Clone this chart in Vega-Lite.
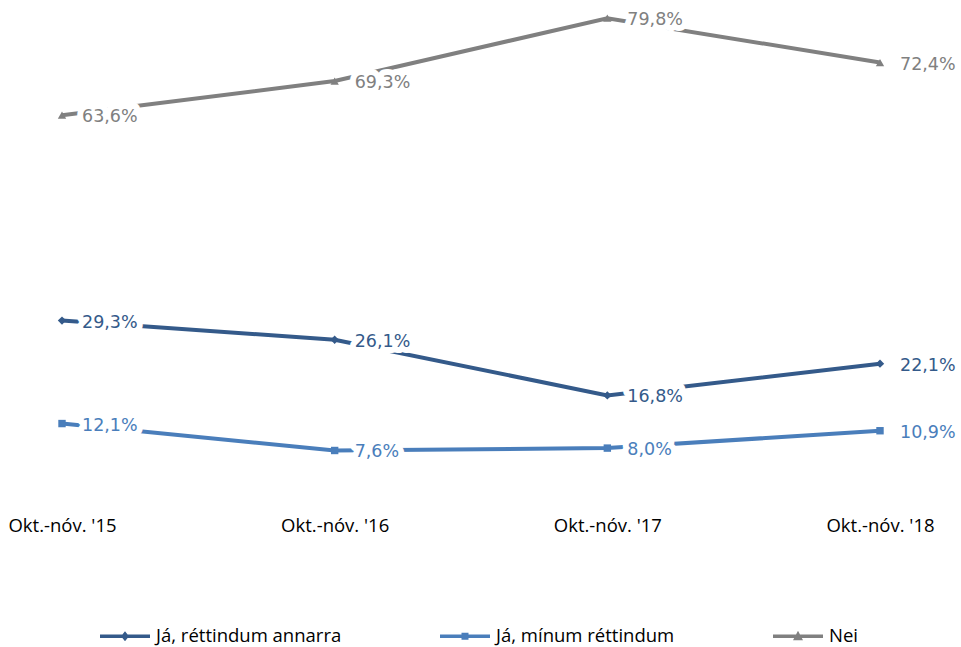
{
  "$schema": "https://vega.github.io/schema/vega-lite/v6.json",
  "autosize": "none",
  "width": 818,
  "height": 479,
  "padding": {"left": 62, "top": 17, "right": 81, "bottom": 151},
  "background": "white",
  "config": {"view": {"stroke": null}},
  "data": {"values": [
    {"period": "Okt.-nóv. '15", "series": "Já, réttindum annarra", "value": 29.3, "label": "29,3%"},
    {"period": "Okt.-nóv. '16", "series": "Já, réttindum annarra", "value": 26.1, "label": "26,1%"},
    {"period": "Okt.-nóv. '17", "series": "Já, réttindum annarra", "value": 16.8, "label": "16,8%"},
    {"period": "Okt.-nóv. '18", "series": "Já, réttindum annarra", "value": 22.1, "label": "22,1%"},
    {"period": "Okt.-nóv. '15", "series": "Já, mínum réttindum", "value": 12.1, "label": "12,1%"},
    {"period": "Okt.-nóv. '16", "series": "Já, mínum réttindum", "value": 7.6, "label": "7,6%"},
    {"period": "Okt.-nóv. '17", "series": "Já, mínum réttindum", "value": 8.0, "label": "8,0%"},
    {"period": "Okt.-nóv. '18", "series": "Já, mínum réttindum", "value": 10.9, "label": "10,9%"},
    {"period": "Okt.-nóv. '15", "series": "Nei", "value": 63.6, "label": "63,6%"},
    {"period": "Okt.-nóv. '16", "series": "Nei", "value": 69.3, "label": "69,3%"},
    {"period": "Okt.-nóv. '17", "series": "Nei", "value": 79.8, "label": "79,8%"},
    {"period": "Okt.-nóv. '18", "series": "Nei", "value": 72.4, "label": "72,4%"}
  ]},
  "encoding": {
    "x": {"field": "period", "type": "ordinal", "sort": null,
      "scale": {"type": "point", "padding": 0},
      "axis": {"title": null, "domain": false, "ticks": false, "labelAngle": 0, "labelFont": "Open Sans", "labelFontSize": 18.5, "labelColor": "#000000", "labelPadding": 20, "labelDx": 3, "labelBaseline": "top"}},
    "y": {"field": "value", "type": "quantitative", "scale": {"domain": [0, 80], "nice": false, "zero": true}, "axis": null}
  },
  "layer": [
    {
      "mark": {"type": "line", "strokeWidth": 4},
      "encoding": {
        "color": {"field": "series", "type": "nominal", "sort": ["Já, réttindum annarra", "Já, mínum réttindum", "Nei"],
          "scale": {"domain": ["Já, réttindum annarra", "Já, mínum réttindum", "Nei"], "range": ["#345a8a", "#4a7ebb", "#808080"]},
          "legend": {"title": null, "orient": "none", "legendX": 38, "legendY": 594, "direction": "horizontal", "columns": 3, "columnPadding": 98,
            "labelFont": "Open Sans", "labelFontSize": 18.5, "labelColor": "#000000", "labelOffset": 6, "labelLimit": 400, "symbolSize": 2500,
            "encode": {"symbols": {"update": {
              "shape": {"signal": "datum.value === 'Nei' ? 'M-1,-0.07H1V0.07H-1Z M0,-0.22L0.2,0.16H-0.2Z' : datum.value === 'Já, mínum réttindum' ? 'M-1,-0.07H1V0.07H-1Z M-0.14,-0.14H0.14V0.14H-0.14Z' : 'M-1,-0.07H1V0.07H-1Z M0,-0.2L0.16,0L0,0.2L-0.16,0Z'"},
              "fill": {"scale": "color", "field": "value"},
              "stroke": {"value": "transparent"},
              "strokeWidth": {"value": 0}
            }}}}
        }
      }
    },
    {
      "transform": [{"filter": "datum.series === 'Já, réttindum annarra'"}],
      "mark": {"type": "point", "filled": true, "opacity": 1, "size": 70, "shape": "diamond"},
      "encoding": {"color": {"field": "series", "type": "nominal", "legend": null}}
    },
    {
      "transform": [{"filter": "datum.series === 'Já, mínum réttindum'"}],
      "mark": {"type": "point", "filled": true, "opacity": 1, "size": 55, "shape": "square"},
      "encoding": {"color": {"field": "series", "type": "nominal", "legend": null}}
    },
    {
      "transform": [{"filter": "datum.series === 'Nei'"}],
      "mark": {"type": "point", "filled": true, "opacity": 1, "size": 70, "shape": "triangle-up"},
      "encoding": {"color": {"field": "series", "type": "nominal", "legend": null}}
    },
    {
      "mark": {"type": "text", "align": "left", "baseline": "middle", "dx": 20, "dy": 2, "font": "DejaVu Sans", "fontSize": 17.5, "stroke": "white", "strokeWidth": 12, "strokeJoin": "round"},
      "encoding": {"text": {"field": "label"}, "color": {"value": "white"}}
    },
    {
      "mark": {"type": "text", "align": "left", "baseline": "middle", "dx": 20, "dy": 2, "font": "DejaVu Sans", "fontSize": 17.5},
      "encoding": {"text": {"field": "label"}, "color": {"field": "series", "type": "nominal", "legend": null}}
    }
  ]
}
